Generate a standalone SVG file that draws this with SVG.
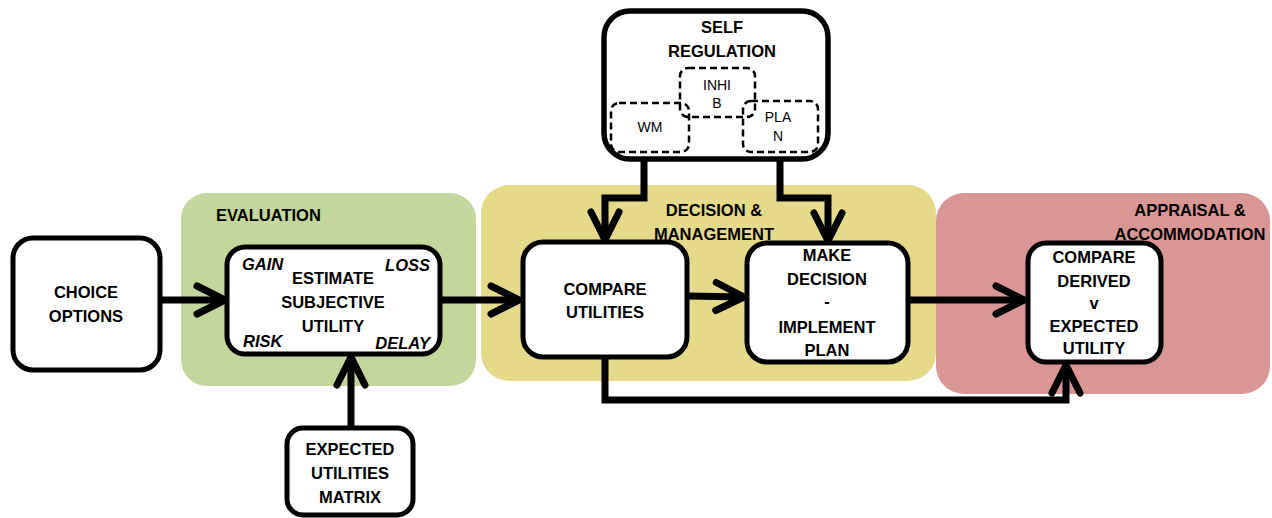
<svg xmlns="http://www.w3.org/2000/svg" width="1272" height="518" viewBox="0 0 1272 518">
  <style>
    .zone { stroke: none; }
    .box { fill: #ffffff; stroke: #000000; stroke-width: 5; }
    .sub { fill: none; stroke: #000000; stroke-width: 2.5; stroke-dasharray: 7 4; }
    .lbl { font-family: "Liberation Sans", Arial, sans-serif; font-weight: bold; font-size: 16.5px; fill: #000000; text-anchor: middle; }
    .tag { font-family: "Liberation Sans", Arial, sans-serif; font-weight: bold; font-style: italic; font-size: 16.5px; fill: #000000; }
    .small { font-family: "Liberation Sans", Arial, sans-serif; font-size: 14px; fill: #000000; text-anchor: middle; }
    .wire { fill: none; stroke: #000000; stroke-width: 7; stroke-linejoin: miter; marker-end: url(#chev); }
  </style>
  <defs>
    <marker id="chev" markerUnits="userSpaceOnUse" viewBox="-40 -22 46 44" refX="0" refY="0" markerWidth="46" markerHeight="44" orient="auto">
      <path d="M-28,-14 L0,0 L-28,14" fill="none" stroke="#000000" stroke-width="7" stroke-linecap="round" stroke-linejoin="round"/>
    </marker>
  </defs>

  <!-- stage backgrounds -->
  <g id="zone-evaluation">
    <rect class="zone" x="181" y="193" width="295" height="193" rx="26" fill="#c3d69b"/>
    <text class="lbl" x="216" y="221" style="text-anchor:start">EVALUATION</text>
  </g>
  <g id="zone-decision">
    <rect class="zone" x="481" y="185" width="455" height="196" rx="28" fill="#e5da8a"/>
    <text class="lbl" x="714" y="216">DECISION &amp;</text>
    <text class="lbl" x="714" y="240">MANAGEMENT</text>
  </g>
  <g id="zone-appraisal">
    <rect class="zone" x="936" y="193" width="334" height="201" rx="28" fill="#d99694"/>
    <text class="lbl" x="1190" y="216">APPRAISAL &amp;</text>
    <text class="lbl" x="1190" y="240">ACCOMMODATION</text>
  </g>

  <!-- connectors -->
  <g id="connectors">
    <path class="wire" d="M160,300 L225,300"/>
    <path class="wire" d="M440,300 L519,300"/>
    <path class="wire" d="M688,296 L744,297"/>
    <path class="wire" d="M908,300 L1024,300"/>
    <path class="wire" d="M351,428 L351,357"/>
    <path class="wire" d="M644,160 L644,198 L605,198 L605,240"/>
    <path class="wire" d="M780,160 L780,198 L828,198 L828,241"/>
    <path class="wire" d="M605,357 L605,400 L1066,400 L1066,365"/>
  </g>

  <!-- nodes -->
  <g id="node-choice">
    <rect class="box" x="13" y="238" width="147" height="132" rx="20"/>
    <text class="lbl" x="86" y="298">CHOICE</text>
    <text class="lbl" x="86" y="322">OPTIONS</text>
  </g>

  <g id="node-estimate">
    <rect class="box" x="227" y="247" width="213" height="107" rx="18"/>
    <text class="lbl" x="333" y="284">ESTIMATE</text>
    <text class="lbl" x="333" y="308">SUBJECTIVE</text>
    <text class="lbl" x="333" y="332">UTILITY</text>
    <text class="tag" x="242" y="270">GAIN</text>
    <text class="tag" x="430" y="271" style="text-anchor:end">LOSS</text>
    <text class="tag" x="243" y="347">RISK</text>
    <text class="tag" x="430" y="349" style="text-anchor:end">DELAY</text>
  </g>

  <g id="node-matrix">
    <rect class="box" x="287" y="428" width="126" height="87" rx="16"/>
    <text class="lbl" x="350" y="455">EXPECTED</text>
    <text class="lbl" x="350" y="479">UTILITIES</text>
    <text class="lbl" x="350" y="503">MATRIX</text>
  </g>

  <g id="node-self-regulation">
    <rect class="box" x="604" y="11" width="224" height="148" rx="26" style="stroke-width:5.5"/>
    <text class="lbl" x="722" y="33">SELF</text>
    <text class="lbl" x="722" y="57">REGULATION</text>
    <rect class="sub" x="680" y="68" width="75" height="49" rx="8"/>
    <rect class="sub" x="611" y="103" width="78" height="49" rx="8"/>
    <rect class="sub" x="743" y="101" width="75" height="51" rx="8"/>
    <text class="small" x="717" y="90">INHI</text>
    <text class="small" x="717" y="108">B</text>
    <text class="small" x="650" y="132">WM</text>
    <text class="small" x="778" y="122">PLA</text>
    <text class="small" x="778" y="141">N</text>
  </g>

  <g id="node-compare-utilities">
    <rect class="box" x="523" y="242" width="164" height="115" rx="20"/>
    <text class="lbl" x="605" y="295">COMPARE</text>
    <text class="lbl" x="605" y="318">UTILITIES</text>
  </g>

  <g id="node-make-decision">
    <rect class="box" x="747" y="243" width="161" height="119" rx="20"/>
    <text class="lbl" x="827" y="261">MAKE</text>
    <text class="lbl" x="827" y="285">DECISION</text>
    <text class="lbl" x="827" y="307">-</text>
    <text class="lbl" x="827" y="333">IMPLEMENT</text>
    <text class="lbl" x="827" y="356">PLAN</text>
  </g>

  <g id="node-compare-derived">
    <rect class="box" x="1028" y="243" width="133" height="119" rx="18"/>
    <text class="lbl" x="1094" y="263">COMPARE</text>
    <text class="lbl" x="1094" y="287">DERIVED</text>
    <text class="lbl" x="1094" y="309">v</text>
    <text class="lbl" x="1094" y="332">EXPECTED</text>
    <text class="lbl" x="1094" y="354">UTILITY</text>
  </g>
</svg>
